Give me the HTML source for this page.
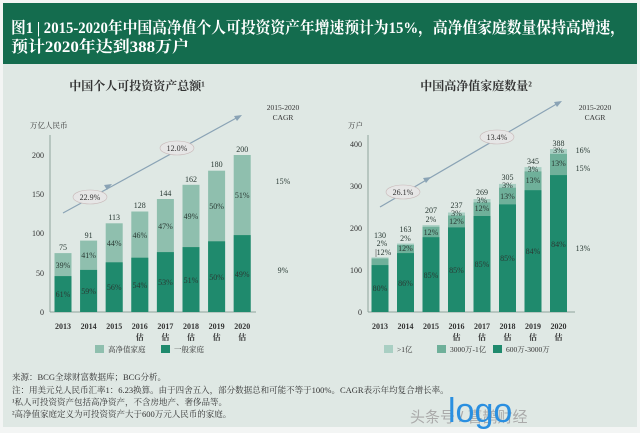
<!DOCTYPE html><html><head><meta charset="utf-8"><style>
body{margin:0;width:640px;height:433px;overflow:hidden;background:#fff}
svg{display:block;font-family:"Liberation Serif","Noto Serif CJK SC",serif}
</style></head><body>
<svg width="640" height="433" viewBox="0 0 640 433">
<rect x="0" y="0" width="640" height="433" fill="#f3f5f4"/>
<rect x="3" y="3" width="634" height="424" fill="#dfe8e4"/>
<rect x="3" y="3" width="634" height="61" fill="#146c4e"/>
<text x="11" y="33" fill="#fff" font-size="16" font-weight="bold" textLength="614" lengthAdjust="spacingAndGlyphs">图1 | 2015-2020年中国高净值个人可投资资产年增速预计为15%，高净值家庭数量保持高增速，</text>
<text x="11" y="52" fill="#fff" font-size="16" font-weight="bold" textLength="178" lengthAdjust="spacingAndGlyphs">预计2020年达到388万户</text>
<text x="137" y="90" text-anchor="middle" font-size="12" font-weight="bold" fill="#333">中国个人可投资资产总额¹</text>
<text x="476" y="90" text-anchor="middle" font-size="12" font-weight="bold" fill="#333">中国高净值家庭数量²</text>
<g font-size="7.5" fill="#333" text-anchor="middle"><text x="283" y="110">2015-2020</text><text x="283" y="120">CAGR</text><text x="595" y="110">2015-2020</text><text x="595" y="120">CAGR</text></g>
<text x="30" y="128" font-size="7.5" fill="#333">万亿人民币</text>
<text x="348" y="128" font-size="7.5" fill="#333">万户</text>
<g stroke="#8fa39c" stroke-width="1"><line x1="50" y1="135" x2="50" y2="312"/><line x1="50" y1="312" x2="256" y2="312"/>
<line x1="368" y1="135" x2="368" y2="312"/><line x1="368" y1="312" x2="575" y2="312"/></g>
<g font-size="8" fill="#333" text-anchor="end"><text x="44" y="315">0</text><text x="44" y="276">50</text><text x="44" y="236">100</text><text x="44" y="197">150</text><text x="44" y="158">200</text>
<text x="362" y="315">0</text><text x="362" y="273">100</text><text x="362" y="231">200</text><text x="362" y="189">300</text><text x="362" y="147">400</text></g>
<g fill="#8fbfae"><rect x="54.5" y="253.1" width="17" height="58.9"/><rect x="80.1" y="240.6" width="17" height="71.4"/><rect x="105.7" y="223.3" width="17" height="88.7"/><rect x="131.3" y="211.5" width="17" height="100.5"/><rect x="156.9" y="199" width="17" height="113"/><rect x="182.5" y="184.8" width="17" height="127.2"/><rect x="208.1" y="170.7" width="17" height="141.3"/><rect x="233.7" y="155" width="17" height="157"/></g>
<g fill="#1f8a6d"><rect x="54.5" y="276.1" width="17" height="35.9"/><rect x="80.1" y="269.9" width="17" height="42.1"/><rect x="105.7" y="262.3" width="17" height="49.7"/><rect x="131.3" y="257.7" width="17" height="54.3"/><rect x="156.9" y="252.1" width="17" height="59.9"/><rect x="182.5" y="247.1" width="17" height="64.9"/><rect x="208.1" y="241.3" width="17" height="70.7"/><rect x="233.7" y="235.1" width="17" height="76.9"/></g>
<g font-size="8" fill="#2a3a34" text-anchor="middle">
<text x="63" y="250">75</text><text x="88.6" y="238">91</text><text x="114.2" y="220">113</text><text x="139.8" y="208">128</text><text x="165.4" y="196">144</text><text x="191" y="182">162</text><text x="216.6" y="167">180</text><text x="242.2" y="152">200</text>
<text x="63" y="268">39%</text><text x="88.6" y="258">41%</text><text x="114.2" y="246">44%</text><text x="139.8" y="238">46%</text><text x="165.4" y="229">47%</text><text x="191" y="219">49%</text><text x="216.6" y="209">50%</text><text x="242.2" y="198">51%</text>
<text x="63" y="297">61%</text><text x="88.6" y="294">59%</text><text x="114.2" y="290">56%</text><text x="139.8" y="288">54%</text><text x="165.4" y="285">53%</text><text x="191" y="283">51%</text><text x="216.6" y="280">50%</text><text x="242.2" y="277">49%</text>
<text x="283" y="184">15%</text><text x="283" y="273">9%</text>
<text x="583" y="153">16%</text><text x="583" y="171">15%</text><text x="583" y="251">13%</text>
</g>
<g fill="#a9cfc3"><rect x="371.5" y="257.4" width="17" height="54.6"/><rect x="397" y="243.5" width="17" height="68.5"/><rect x="422.5" y="225.1" width="17" height="86.9"/><rect x="448" y="212.5" width="17" height="99.5"/><rect x="473.5" y="199" width="17" height="113"/><rect x="499" y="183.9" width="17" height="128.1"/><rect x="524.5" y="167.1" width="17" height="144.9"/><rect x="550" y="149" width="17" height="163"/></g>
<g fill="#6fb09a"><rect x="371.5" y="258.5" width="17" height="53.5"/><rect x="397" y="244.9" width="17" height="67.1"/><rect x="422.5" y="226.8" width="17" height="85.2"/><rect x="448" y="215.5" width="17" height="96.5"/><rect x="473.5" y="202.4" width="17" height="109.6"/><rect x="499" y="187.7" width="17" height="124.3"/><rect x="524.5" y="171.4" width="17" height="140.6"/><rect x="550" y="153.9" width="17" height="158.1"/></g>
<g fill="#1f8a6d"><rect x="371.5" y="265.1" width="17" height="46.9"/><rect x="397" y="253.1" width="17" height="58.9"/><rect x="422.5" y="237.2" width="17" height="74.8"/><rect x="448" y="227.4" width="17" height="84.6"/><rect x="473.5" y="216" width="17" height="96"/><rect x="499" y="204.4" width="17" height="107.6"/><rect x="524.5" y="190.2" width="17" height="121.8"/><rect x="550" y="175.1" width="17" height="136.9"/></g>
<g font-size="8" fill="#2a3a34" text-anchor="middle">
<text x="380" y="238">130</text><text x="382" y="246">2%</text><text x="384" y="255">12%</text><line x1="376" y1="249" x2="376" y2="257" stroke="#555" stroke-width="0.6"/>
<text x="405.5" y="232">163</text><text x="405.5" y="241">2%</text><text x="405.5" y="251">12%</text>
<text x="431" y="213">207</text><text x="431" y="222">2%</text><text x="431" y="235">12%</text>
<text x="456.5" y="208">237</text><text x="456.5" y="216">3%</text><text x="456.5" y="224">12%</text>
<text x="482" y="195">269</text><text x="482" y="203">3%</text><text x="482" y="211">12%</text>
<text x="507.5" y="180">305</text><text x="507.5" y="188">3%</text><text x="507.5" y="199">13%</text>
<text x="533" y="164">345</text><text x="533" y="172">3%</text><text x="533" y="183">13%</text>
<text x="558.5" y="146">388</text><text x="558.5" y="153">3%</text><text x="558.5" y="166">13%</text>
<text x="380" y="291">80%</text><text x="405.5" y="286">86%</text><text x="431" y="278">85%</text><text x="456.5" y="273">85%</text><text x="482" y="267">85%</text><text x="507.5" y="261">85%</text><text x="533" y="254">84%</text><text x="558.5" y="247">84%</text>
</g>
<g font-size="8" font-weight="bold" fill="#333" text-anchor="middle">
<text x="63" y="329">2013</text><text x="88.6" y="329">2014</text><text x="114.2" y="329">2015</text><text x="139.8" y="329">2016</text><text x="165.4" y="329">2017</text><text x="191" y="329">2018</text><text x="216.6" y="329">2019</text><text x="242.2" y="329">2020</text>
<text x="139.8" y="340">估</text><text x="165.4" y="340">估</text><text x="191" y="340">估</text><text x="216.6" y="340">估</text><text x="242.2" y="340">估</text>
<text x="380" y="329">2013</text><text x="405.5" y="329">2014</text><text x="431" y="329">2015</text><text x="456.5" y="329">2016</text><text x="482" y="329">2017</text><text x="507.5" y="329">2018</text><text x="533" y="329">2019</text><text x="558.5" y="329">2020</text>
<text x="456.5" y="340">估</text><text x="482" y="340">估</text><text x="507.5" y="340">估</text><text x="533" y="340">估</text><text x="558.5" y="340">估</text>
</g>
<g stroke="#8aa3b5" stroke-width="1.2" fill="none"><line x1="63" y1="213" x2="240" y2="116"/><line x1="380" y1="207" x2="560" y2="102"/></g>
<g fill="#8aa3b5"><polygon points="242,115 234,116 237,121"/><polygon points="562,101 554,102 557,107"/><polygon points="112,184 104,185 107,190"/><polygon points="431,177 423,178 426,183"/></g>
<g fill="#e6e6e6" stroke="#c8b8b8" stroke-width="0.6"><ellipse cx="90" cy="197" rx="17" ry="7"/><ellipse cx="177" cy="148" rx="17" ry="7"/><ellipse cx="403" cy="192" rx="17" ry="7"/><ellipse cx="497" cy="137" rx="17" ry="7"/></g>
<g font-size="8" fill="#333" text-anchor="middle"><text x="90" y="200">22.9%</text><text x="177" y="151">12.0%</text><text x="403" y="195">26.1%</text><text x="497" y="140">13.4%</text></g>
<rect x="95" y="345" width="9" height="8" fill="#8fbfae"/><text x="108" y="352" font-size="7.5" fill="#333">高净值家庭</text>
<rect x="161" y="345" width="9" height="8" fill="#1f8a6d"/><text x="174" y="352" font-size="7.5" fill="#333">一般家庭</text>
<rect x="384" y="345" width="9" height="8" fill="#a9cfc3"/><text x="397" y="352" font-size="7.5" fill="#333">&gt;1亿</text>
<rect x="437" y="345" width="9" height="8" fill="#6fb09a"/><text x="450" y="352" font-size="7.5" fill="#333">3000万-1亿</text>
<rect x="493" y="345" width="9" height="8" fill="#1f8a6d"/><text x="506" y="352" font-size="7.5" fill="#333">600万-3000万</text>
<g font-size="8.5" fill="#333"><text x="12" y="380">来源：BCG全球财富数据库；BCG分析。</text>
<text x="12" y="393">注：用美元兑人民币汇率1：6.23换算。由于四舍五入，部分数据总和可能不等于100%。CAGR表示年均复合增长率。</text>
<text x="12" y="405">¹私人可投资资产包括高净资产，不含房地产、奢侈品等。</text>
<text x="12" y="417">²高净值家庭定义为可投资资产大于600万元人民币的家庭。</text></g>
<text x="410" y="422" font-size="15" fill="#aaa" font-family="Liberation Sans,Noto Sans CJK SC,sans-serif">头条号 / 喜鹊财经</text>
<text x="448" y="422" font-size="34" fill="#2a8fe0" font-family="Liberation Sans,sans-serif">logo</text>
</svg></body></html>
